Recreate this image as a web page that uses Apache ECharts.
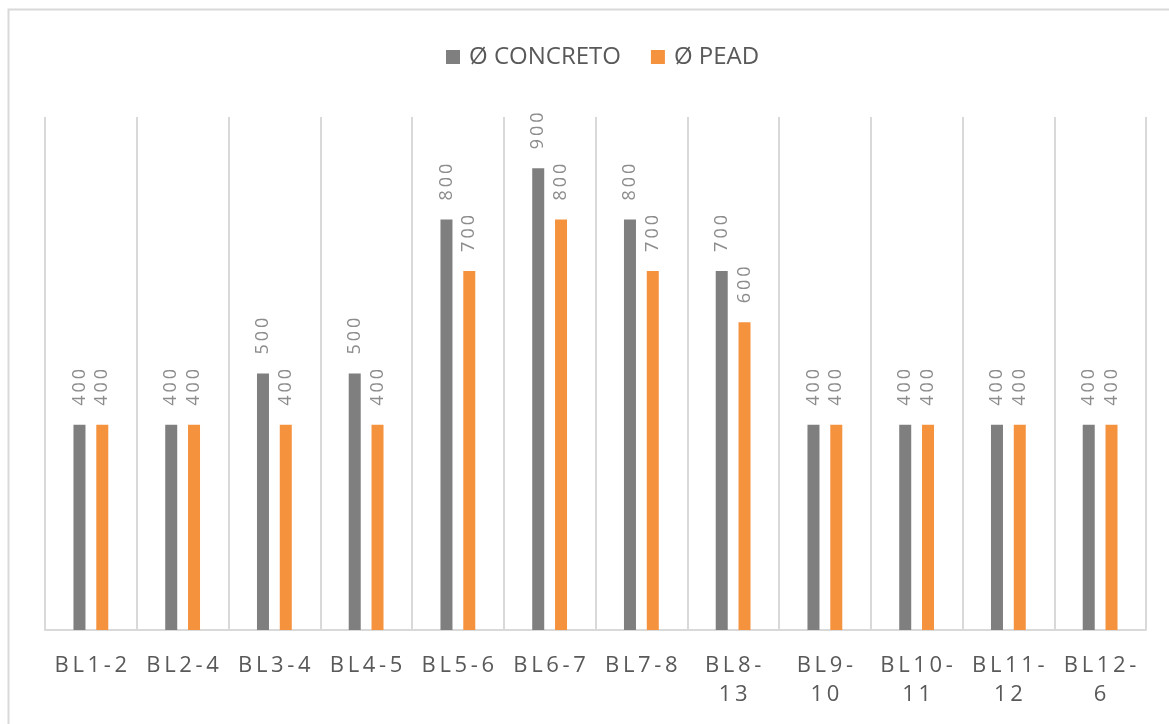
<!DOCTYPE html>
<html>
<head>
<meta charset="utf-8">
<script src="https://cdn.jsdelivr.net/npm/echarts@6/dist/echarts.min.js"></script>
<style>
  html, body { margin: 0; padding: 0; background: #ffffff; }
  #chart { width: 1169px; height: 724px; }
</style>
</head>
<body>
<div id="chart"></div>
<script>
// Tramos de la red y diámetros (mm)
const categories = ['BL1-2', 'BL2-4', 'BL3-4', 'BL4-5', 'BL5-6', 'BL6-7', 'BL7-8', 'BL8-13', 'BL9-10', 'BL10-11', 'BL11-12', 'BL12-6'];
const concreto = [400, 400, 500, 500, 800, 900, 800, 700, 400, 400, 400, 400];
const pead = [400, 400, 400, 400, 700, 800, 700, 600, 400, 400, 400, 400];
const seriesNames = ['Ø CONCRETO', 'Ø PEAD'];

const FONT = '"Open Sans", "Noto Sans", sans-serif';
const SP = '\u2009'; // espacio fino para abrir el texto

function spaced(s) { return s.split('').join(SP); }

// Corta las etiquetas largas después del guion
function wrapLabel(name) {
  if (name.length > 5) {
    const i = name.indexOf('-');
    return spaced(name.slice(0, i + 1)) + '\n' + spaced(name.slice(i + 1));
  }
  return spaced(name);
}

const valueLabel = {
  show: true,
  position: 'top',
  rotate: 90,
  align: 'left',
  verticalAlign: 'middle',
  distance: 19,
  color: '#8c8c8c',
  fontFamily: FONT,
  fontSize: 18,
  formatter: p => spaced(String(p.value))
};

const chart = echarts.init(document.getElementById('chart'));
chart.setOption({
  backgroundColor: '#ffffff',
  animation: false,
  graphic: [{
    type: 'rect',
    shape: { x: 8.5, y: 9.5, width: 1300, height: 900 },
    style: { fill: 'none', stroke: '#d9d9d9', lineWidth: 2 },
    silent: true
  }],
  legend: {
    top: 40,
    left: 441,
    itemWidth: 14,
    itemHeight: 14,
    itemGap: 30,
    icon: 'rect',
    textStyle: { color: '#595959', fontFamily: FONT, fontSize: 24, padding: [0, 0, 0, 4] },
    data: seriesNames
  },
  grid: { left: 45, right: 23, top: 117, bottom: 94 },
  xAxis: {
    type: 'category',
    data: categories,
    axisLine: { show: true, lineStyle: { color: '#d9d9d9', width: 2 } },
    axisTick: { show: false },
    splitLine: { show: true, lineStyle: { color: '#d9d9d9', width: 2 } },
    axisLabel: {
      interval: 0,
      margin: 21,
      color: '#595959',
      fontFamily: FONT,
      fontSize: 22,
      lineHeight: 29,
      formatter: wrapLabel
    }
  },
  yAxis: {
    type: 'value',
    min: 0,
    max: 1000,
    show: false,
    splitLine: { show: false }
  },
  series: [
    {
      name: seriesNames[0],
      type: 'bar',
      data: concreto,
      barWidth: 12,
      barGap: '90%',
      itemStyle: { color: '#7f7f7f' },
      label: valueLabel
    },
    {
      name: seriesNames[1],
      type: 'bar',
      data: pead,
      barWidth: 12,
      itemStyle: { color: '#f5923e' },
      label: valueLabel
    }
  ]
});
</script>
</body>
</html>
